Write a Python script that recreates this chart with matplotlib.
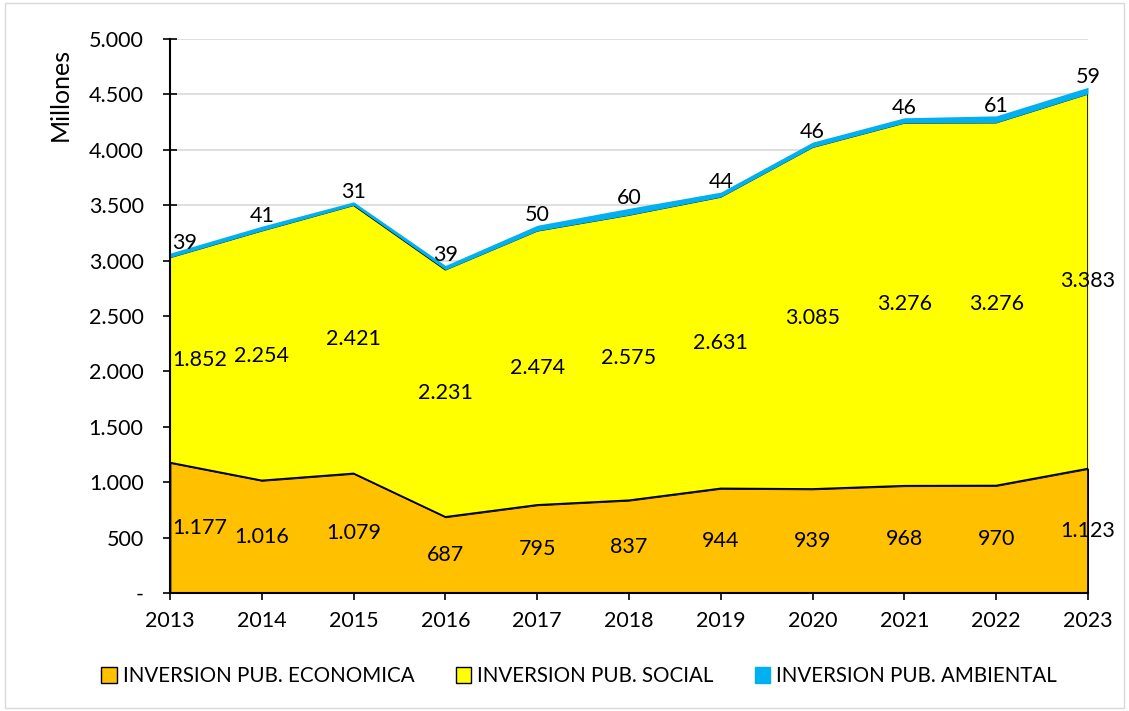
import numpy as np
import matplotlib
matplotlib.use("Agg")
import matplotlib.pyplot as plt
from matplotlib.ticker import FuncFormatter
from matplotlib.patches import Patch

plt.rcParams['font.family'] = ['Lato', 'DejaVu Sans']

years = [2013, 2014, 2015, 2016, 2017, 2018, 2019, 2020, 2021, 2022, 2023]
economica = [1177, 1016, 1079, 687, 795, 837, 944, 939, 968, 970, 1123]
social = [1852, 2254, 2421, 2231, 2474, 2575, 2631, 3085, 3276, 3276, 3383]
ambiental = [39, 41, 31, 39, 50, 60, 44, 46, 46, 61, 59]

names = ["INVERSION PUB. ECONOMICA", "INVERSION PUB. SOCIAL", "INVERSION PUB. AMBIENTAL"]
colors = ["#FFC000", "#FFFF00", "#00B0F0"]

x = np.array(years)
e = np.array(economica)
s = np.array(social)
a = np.array(ambiental)
top1 = e
top2 = e + s
top3 = e + s + a

fig = plt.figure(figsize=(11.29, 7.11), dpi=100)
ax = fig.add_axes([0.1506, 0.166, 0.8131, 0.779])

ax.fill_between(x, 0, top1, color=colors[0], edgecolor="black", lw=1.2, zorder=2)
ax.fill_between(x, top1, top2, color=colors[1], lw=0, zorder=2)
ax.plot(x, top2, color="black", lw=1.2, zorder=3)
ax.plot(x, top1, color="black", lw=1.2, zorder=3)
ax.fill_between(x, top2, top3, color=colors[2], lw=0, zorder=4)
ax.plot([x[-1], x[-1]], [0, top2[-1]], color="black", lw=1.2, zorder=3)

ax.set_xlim(2013, 2023)
ax.set_ylim(0, 5000)
ax.set_yticks(np.arange(0, 5001, 500))
ax.set_xticks(years)
ax.yaxis.set_major_formatter(FuncFormatter(lambda v, p: "-" if v == 0 else f"{int(v):,}".replace(",", ".")))
ax.grid(axis="y", color="#D9D9D9", lw=1.2, zorder=0)
ax.set_axisbelow(True)
for sp in ["top", "right"]:
    ax.spines[sp].set_visible(False)
for sp in ["left", "bottom"]:
    ax.spines[sp].set_linewidth(1.5)
    ax.spines[sp].set_zorder(5)
ax.tick_params(axis="both", direction="inout", length=10, width=1.2, labelsize=15.5, colors="black")
ax.tick_params(axis="y", pad=14)
ax.tick_params(axis="x", pad=8)
ax.set_ylabel("Millones", fontsize=18)
ax.yaxis.set_label_coords(-0.107, 0.90)

fs = 15.5
for i, yr in enumerate(years):
    if i == 0:
        ha, dx = "left", 0.02
    else:
        ha, dx = "center", 0
    ax.text(yr + dx, e[i] / 2, f"{e[i]:,}".replace(",", "."), ha=ha, va="center", fontsize=fs, zorder=6)
    ax.text(yr + dx, e[i] + s[i] / 2, f"{s[i]:,}".replace(",", "."), ha=ha, va="center", fontsize=fs, zorder=6)
    ax.annotate(str(a[i]), (yr + dx, top3[i]), xytext=(0, 0), textcoords="offset points",
                ha=ha, va="bottom", fontsize=fs, zorder=6)

handles = [Patch(facecolor=colors[0], edgecolor="black"),
           Patch(facecolor=colors[1], edgecolor="black"),
           Patch(facecolor=colors[2], edgecolor=colors[2])]
fig.legend(handles, names, loc="center", bbox_to_anchor=(0.513, 0.049), ncol=3, frameon=False,
           fontsize=14.8, handlelength=0.75, handleheight=0.75, handletextpad=0.3, columnspacing=2.0)

fig.patches.append(plt.Rectangle((0.004, 0.004), 0.992, 0.992, transform=fig.transFigure,
                                 fill=False, edgecolor="#D9D9D9", lw=1))

fig.savefig("out.png", dpi=100)
